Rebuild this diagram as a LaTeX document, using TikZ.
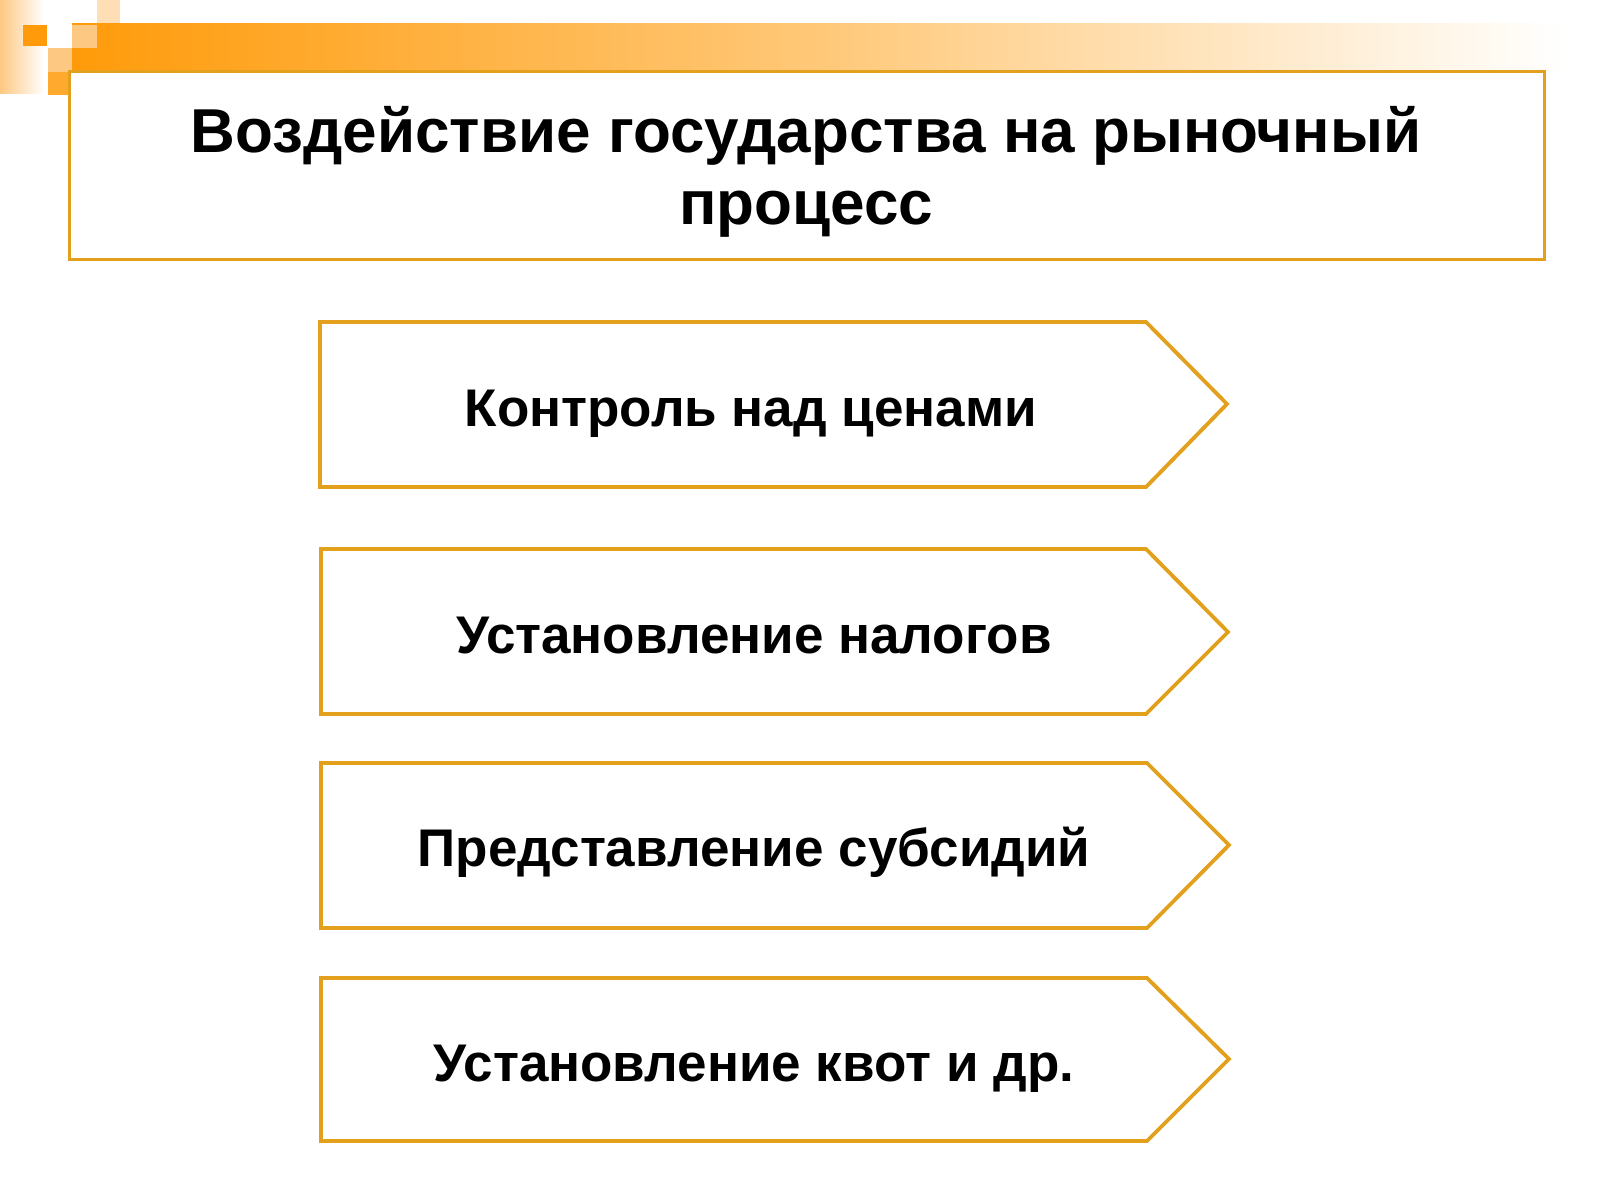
\documentclass[tikz,border=0pt]{standalone}
\usepackage{fontspec}
\setmainfont{Liberation Sans}
\definecolor{barorange}{RGB}{255,155,10}
\definecolor{lightorange}{RGB}{253,200,130}
\definecolor{paleorange}{RGB}{254,222,180}
\definecolor{boxline}{RGB}{226,160,28}
\tikzset{
  arrowbox/.style={draw=boxline, line width=3.8pt, line join=miter, fill=white},
  boxtext/.style={font=\bfseries\fontsize{53}{60}\selectfont, anchor=base, inner sep=0pt},
  titletext/.style={font=\bfseries\fontsize{62}{72}\selectfont, align=center, inner sep=0pt}
}
\begin{document}
\begin{tikzpicture}[x=1pt,y=-1pt]
\useasboundingbox (0,0) rectangle (1600,1200);
\fill[white] (0,0) rectangle (1600,1200);
% decoration top-left
\shade[left color=lightorange, right color=white] (0,0) rectangle (44,93);
\fill[barorange] (23,25) rectangle (47,46);
\fill[paleorange] (97,0) rectangle (120,23);
\fill[lightorange] (48,48) rectangle (72,72);
\fill[barorange!85!white] (48,72) rectangle (69,95);
\shade[left color=barorange, right color=white, middle color=barorange!55!white] (72,23) rectangle (1565,71);
\fill[lightorange] (72,25) rectangle (97,48);
% title box
\draw[draw=boxline, line width=3pt, fill=white] (69,71) rectangle (1544,259);
\node[titletext] (title) at (806,172) {Воздействие государства на рыночный\\процесс};
% arrow boxes
\draw[arrowbox] (320,322) -- (1146,322) -- (1227,404) -- (1146,487) -- (320,487) -- cycle;
\node[boxtext] (b1) at (751,426) {Контроль над ценами};
\draw[arrowbox] (321,549) -- (1146,549) -- (1228,632) -- (1146,714) -- (321,714) -- cycle;
\node[boxtext] (b2) at (754,653) {Установление налогов};
\draw[arrowbox] (321,763) -- (1147,763) -- (1229,845) -- (1147,928) -- (321,928) -- cycle;
\node[boxtext] (b3) at (754,866) {Представление субсидий};
\draw[arrowbox] (321,978) -- (1147,978) -- (1229,1059) -- (1147,1141) -- (321,1141) -- cycle;
\node[boxtext] (b4) at (754,1081) {Установление квот и др.};
\end{tikzpicture}
\end{document}
